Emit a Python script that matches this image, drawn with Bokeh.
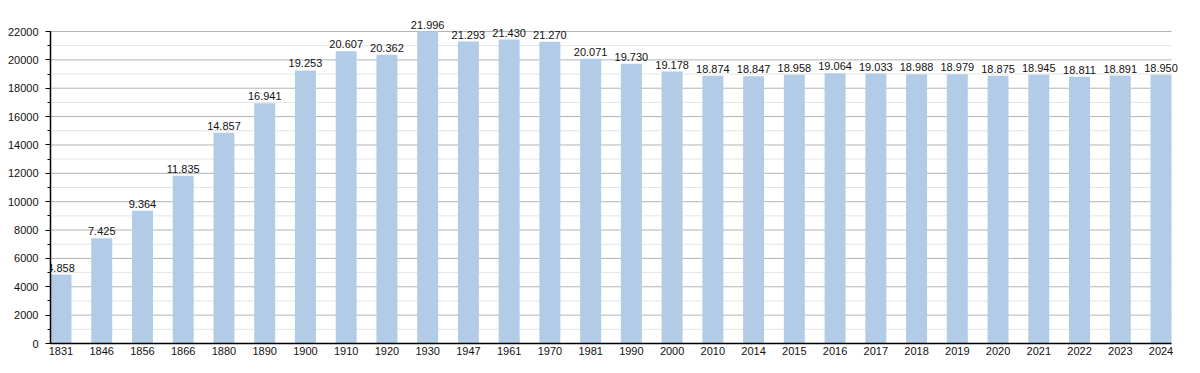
from bokeh.plotting import figure
from bokeh.models import ColumnDataSource, SingleIntervalTicker, FixedTicker, Range1d
from bokeh.core.properties import value
from bokeh.embed import file_html
from bokeh.resources import INLINE

years = ["1831", "1846", "1856", "1866", "1880", "1890", "1900", "1910", "1920", "1930",
         "1947", "1961", "1970", "1981", "1990", "2000", "2010", "2014", "2015", "2016",
         "2017", "2018", "2019", "2020", "2021", "2022", "2023", "2024"]
population = [4858, 7425, 9364, 11835, 14857, 16941, 19253, 20607, 20362, 21996,
              21293, 21430, 21270, 20071, 19730, 19178, 18874, 18847, 18958, 19064,
              19033, 18988, 18979, 18875, 18945, 18811, 18891, 18950]
labels = [f"{v:,}".replace(",", ".") for v in population]
y_max = 22000
y_step = 2000
y_minor_step = 1000

FONT = "Liberation Sans"
BAR_W = 0.515

# geometry (pixels in the page)
W, H = 1184, 365
LEFT_PX, RIGHT_PX = 50, 1171        # axis line .. right edge of chart area
TOP_AXIS_PX, BOTTOM_PX = 31, 343    # y_max .. 0
FRAME_TOP = 10
FRAME_RIGHT_BORDER = 1

n = len(years)
x_start = -BAR_W / 2
x_chart_end = n - 1 + BAR_W / 2
px_per_unit = (RIGHT_PX - LEFT_PX) / (x_chart_end - x_start)
x_end = x_start + (W - LEFT_PX - FRAME_RIGHT_BORDER) / px_per_unit
y_end = y_max * (BOTTOM_PX - FRAME_TOP) / (BOTTOM_PX - TOP_AXIS_PX)

xs = list(range(n))
src = ColumnDataSource(dict(x=xs, y=population, label=labels))

p = figure(width=W, height=H, output_backend="svg", toolbar_location=None,
           x_range=Range1d(x_start, x_end), y_range=Range1d(0, y_end))
p.min_border_left = LEFT_PX
p.min_border_right = FRAME_RIGHT_BORDER
p.min_border_top = FRAME_TOP
p.min_border_bottom = H - BOTTOM_PX
p.outline_line_color = None
p.background_fill_color = "white"
p.border_fill_color = "white"
p.xgrid.grid_line_color = None
p.ygrid.grid_line_color = None

# grid lines limited to the chart area
grid_y = list(range(y_minor_step, y_max + 1, y_minor_step))
minor_y = [g for g in grid_y if g % y_step]
major_y = [g for g in grid_y if g % y_step == 0]
p.segment(x0=[x_start] * len(minor_y), x1=[x_chart_end] * len(minor_y), y0=minor_y, y1=minor_y,
          line_color="#e4e4e4", line_width=1, level="underlay")
p.segment(x0=[x_start] * len(major_y), x1=[x_chart_end] * len(major_y), y0=major_y, y1=major_y,
          line_color="#b4b4b4", line_width=1, level="underlay")

p.vbar(x="x", top="y", width=BAR_W, bottom=0, source=src,
       fill_color="#b2cce7", line_color=None)

p.text(x="x", y="y", text="label", source=src, text_align="center",
       text_baseline="bottom", y_offset=-3, text_font=value(FONT),
       text_font_size="11px", text_color="#111111")

# y axis
ya = p.yaxis[0]
ya.ticker = SingleIntervalTicker(interval=y_step, num_minor_ticks=2)
ya.bounds = (0, y_max)
ya.major_tick_out = 5
ya.major_tick_in = 0
ya.minor_tick_out = 3
ya.minor_tick_in = 0
ya.major_label_standoff = 7
ya.axis_line_color = "black"
ya.axis_line_width = 1.5
ya.major_label_text_font = FONT
ya.major_label_text_font_size = "11px"
ya.major_label_text_color = "#111111"

# x axis
xa = p.xaxis[0]
xa.ticker = FixedTicker(ticks=xs)
xa.bounds = (x_start, x_chart_end)
xa.major_label_overrides = {i: y for i, y in zip(xs, years)}
xa.major_tick_out = 0
xa.major_tick_in = 0
xa.minor_tick_out = 0
xa.minor_tick_in = 0
xa.major_label_standoff = 3
xa.axis_line_color = "black"
xa.axis_line_width = 1.5
xa.major_label_text_font = FONT
xa.major_label_text_font_size = "11px"
xa.major_label_text_color = "#111111"

open("out.html", "w").write(file_html(p, INLINE))
